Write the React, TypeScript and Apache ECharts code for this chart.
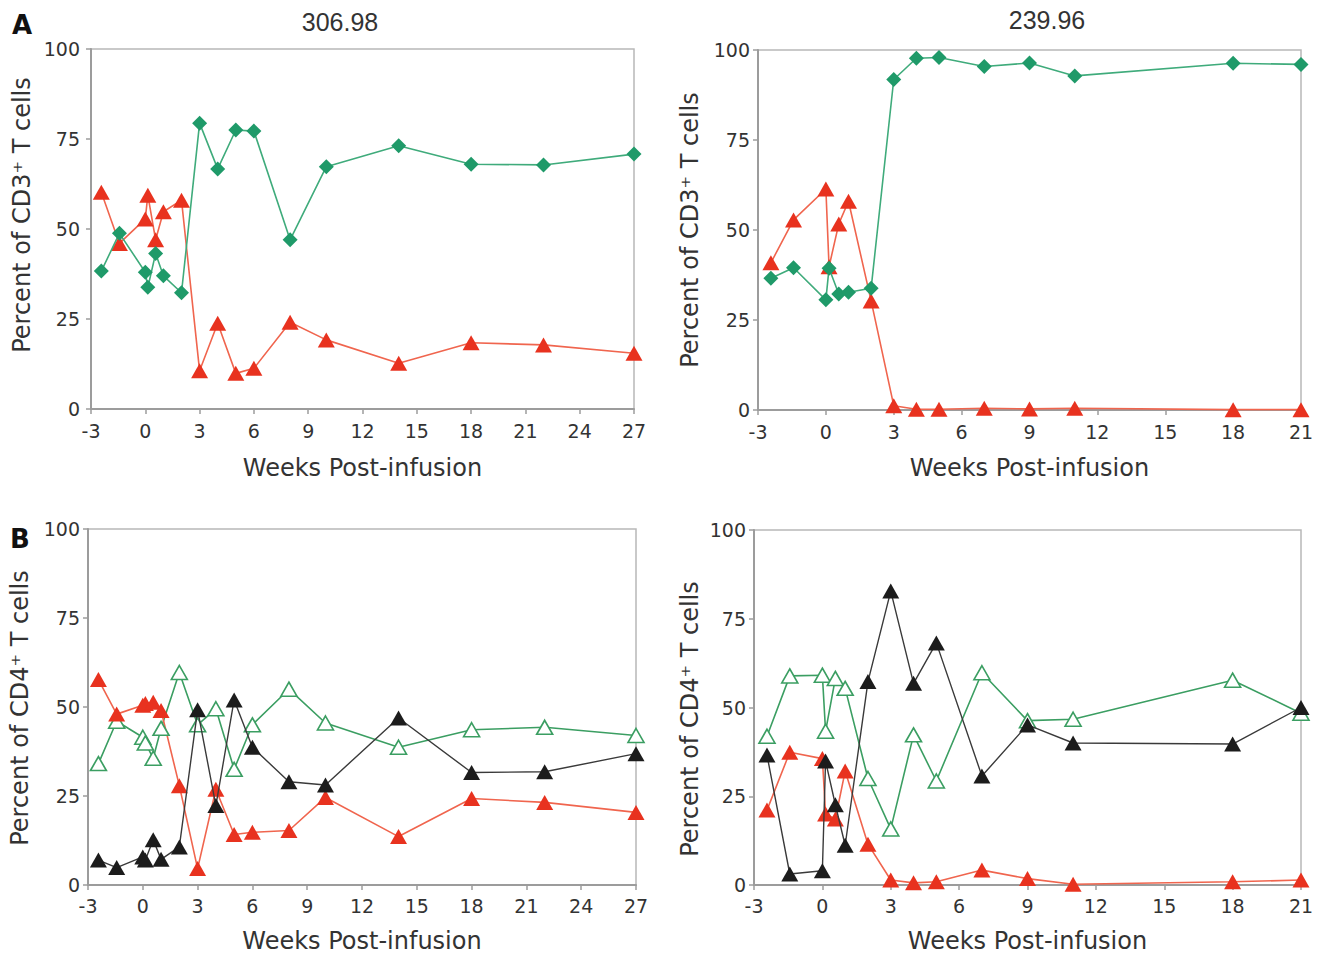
import React, { useEffect, useRef } from "react";
import * as echarts from "echarts";

// ---- Data ----
// Panel A (CD3+), patient 306.98
const weeksA1 = [-2.43, -1.43, 0, 0.14, 0.57, 1, 2, 3, 4, 5, 6, 8, 10, 14, 18, 22, 27];
const greenA1 = [38.3, 48.8, 38.0, 33.8, 43.2, 37.0, 32.3, 79.4, 66.7, 77.5, 77.2, 47.0, 67.3, 73.1, 68.0, 67.8, 70.8];
const redA1 = [60.2, 46.0, 52.8, 59.4, 47.0, 54.8, 58.0, 10.6, 23.8, 9.9, 11.3, 24.1, 19.2, 12.7, 18.4, 17.8, 15.5];

// Panel A (CD3+), patient 239.96
const weeksA2 = [-2.43, -1.43, 0, 0.14, 0.57, 1, 2, 3, 4, 5, 7, 9, 11, 18, 21];
const greenA2 = [36.6, 39.5, 30.6, 39.4, 32.2, 32.7, 33.8, 91.8, 97.7, 97.9, 95.4, 96.4, 92.8, 96.3, 96.0];
const redA2 = [40.9, 52.8, 61.4, 39.8, 51.7, 58.0, 30.3, 1.2, 0.2, 0.2, 0.5, 0.3, 0.5, 0.1, 0.1];

// Panel B (CD4+), patient 306.98
const weeksB1 = [-2.43, -1.43, 0, 0.14, 0.57, 1, 2, 3, 4, 5, 6, 8, 10, 14, 18, 22, 27];
const openB1 = [34.1, 46.0, 41.5, 39.9, 35.6, 44.0, 59.7, 45.0, 49.5, 32.5, 45.0, 55.0, 45.5, 38.7, 43.6, 44.3, 42.0];
const redB1 = [57.7, 48.0, 50.5, 51.0, 51.3, 49.0, 27.9, 4.6, 26.9, 14.2, 14.8, 15.3, 24.6, 13.6, 24.3, 23.2, 20.4];
const blackB1 = [7.0, 4.9, 7.9, 7.0, 12.7, 7.2, 10.7, 49.2, 22.3, 52.0, 38.7, 29.0, 28.1, 46.9, 31.6, 31.8, 36.9];

// Panel B (CD4+), patient 239.96
const weeksB2 = [-2.43, -1.43, 0, 0.14, 0.57, 1, 2, 3, 4, 5, 7, 9, 11, 18, 21];
const openB2 = [41.9, 58.9, 59.1, 43.3, 58.2, 55.4, 30.0, 15.8, 42.3, 29.3, 59.8, 46.3, 46.7, 57.7, 48.4];
const blackB2 = [36.6, 3.1, 4.0, 34.9, 22.6, 11.2, 57.3, 82.8, 56.8, 68.2, 30.7, 45.1, 40.0, 39.7, 50.0];
const redB2 = [21.1, 37.4, 35.6, 20.0, 18.6, 32.1, 11.5, 1.4, 0.6, 0.9, 4.2, 1.8, 0.2, 0.9, 1.4];

const xMax = [27, 21, 27, 21];
const titles = ["306.98", "239.96"];
const yNames = ["Percent of CD3\u207A T cells", "Percent of CD4\u207A T cells"];
const xName = "Weeks Post-infusion";

// ---- Styles ----
const GREEN_LINE = "#3fab7b";
const GREEN_FILL = "#1f9a69";
const RED_LINE = "#f0654e";
const RED_FILL = "#e8321f";
const BLACK = "#1c1c1c";
const BLACK_LINE = "#3a3a3a";
const OPEN_GREEN = "#3b9e62";
const TEXT = "#333333";
const AXIS = "#9c9c9c";
const FONT = "DejaVu Sans";

const pairs = (w: number[], v: number[]) => w.map((x, i) => [x, v[i]]);

export default function App() {
  const ref = useRef<HTMLDivElement>(null);

  useEffect(() => {
    document.body.style.margin = "0";
    if (!ref.current) return;
    const chart = echarts.init(ref.current, null, { renderer: "svg" });

    const grids = [
      { left: 91, top: 49, width: 543, height: 360 },
      { left: 758, top: 50, width: 543, height: 360 },
      { left: 88, top: 529, width: 548, height: 359 },
      { left: 754, top: 530, width: 547, height: 358 },
    ];
    const xLabelMargin = [12, 12, 11, 11];
    const xNameGap = [47, 46, 44, 44];
    const yLabelMargin = [11, 8, 8, 8];

    const diamond = (idx: number, data: number[][]) => ({
      type: "line",
      xAxisIndex: idx,
      yAxisIndex: idx,
      data,
      symbol: "diamond",
      symbolSize: 15,
      lineStyle: { color: GREEN_LINE, width: 1.6 },
      itemStyle: { color: GREEN_FILL },
      z: 3,
    });
    const redTri = (idx: number, data: number[][]) => ({
      type: "line",
      xAxisIndex: idx,
      yAxisIndex: idx,
      data,
      symbol: "triangle",
      symbolSize: [17, 15],
      lineStyle: { color: RED_LINE, width: 1.6 },
      itemStyle: { color: RED_FILL },
      z: 2,
    });
    const blackTri = (idx: number, data: number[][]) => ({
      type: "line",
      xAxisIndex: idx,
      yAxisIndex: idx,
      data,
      symbol: "triangle",
      symbolSize: [17, 15],
      lineStyle: { color: BLACK_LINE, width: 1.4 },
      itemStyle: { color: BLACK },
      z: 4,
    });
    const openTri = (idx: number, data: number[][]) => ({
      type: "line",
      xAxisIndex: idx,
      yAxisIndex: idx,
      data,
      symbol: "triangle",
      symbolSize: [16, 14],
      lineStyle: { color: OPEN_GREEN, width: 1.6 },
      itemStyle: { color: "#ffffff", borderColor: OPEN_GREEN, borderWidth: 1.6 },
      z: 2,
    });

    const option: any = {
      animation: false,
      backgroundColor: "#ffffff",
      grid: grids.map((g) => ({
        ...g,
        show: true,
        borderColor: "#b8b8b8",
        borderWidth: 1.5,
        backgroundColor: "transparent",
        containLabel: false,
      })),
      xAxis: grids.map((_, i) => ({
        type: "value",
        gridIndex: i,
        min: -3,
        max: xMax[i],
        interval: 3,
        axisLine: { show: true, onZero: false, lineStyle: { color: AXIS, width: 2 } },
        axisTick: { show: true, length: 5, lineStyle: { color: AXIS, width: 1.5 } },
        axisLabel: { margin: xLabelMargin[i], fontSize: 19, color: TEXT, fontFamily: FONT },
        splitLine: { show: false },
        name: xName,
        nameLocation: "middle",
        nameGap: xNameGap[i],
        nameTextStyle: { fontSize: 24, color: TEXT, fontFamily: FONT },
      })),
      yAxis: grids.map((_, i) => ({
        type: "value",
        gridIndex: i,
        min: 0,
        max: 100,
        interval: 25,
        axisLine: { show: true, onZero: false, lineStyle: { color: AXIS, width: 2 } },
        axisTick: { show: true, length: 5, lineStyle: { color: AXIS, width: 1.5 } },
        axisLabel: { margin: yLabelMargin[i], fontSize: 19, color: TEXT, fontFamily: FONT },
        splitLine: { show: false },
      })),
      series: [
        redTri(0, pairs(weeksA1, redA1)),
        diamond(0, pairs(weeksA1, greenA1)),
        redTri(1, pairs(weeksA2, redA2)),
        diamond(1, pairs(weeksA2, greenA2)),
        openTri(2, pairs(weeksB1, openB1)),
        redTri(2, pairs(weeksB1, redB1)),
        blackTri(2, pairs(weeksB1, blackB1)),
        openTri(3, pairs(weeksB2, openB2)),
        redTri(3, pairs(weeksB2, redB2)),
        blackTri(3, pairs(weeksB2, blackB2)),
      ],
      graphic: [
        {
          type: "text", x: 22, y: 25,
          style: { text: "A", font: `bold 26px "${FONT}"`, fill: "#111", align: "center", verticalAlign: "middle" },
        },
        {
          type: "text", x: 20, y: 539,
          style: { text: "B", font: `bold 26px "${FONT}"`, fill: "#111", align: "center", verticalAlign: "middle" },
        },
        {
          type: "text", x: 340, y: 22,
          style: { text: titles[0], font: `25px "Liberation Sans"`, fill: TEXT, align: "center", verticalAlign: "middle" },
        },
        {
          type: "text", x: 1047, y: 20,
          style: { text: titles[1], font: `25px "Liberation Sans"`, fill: TEXT, align: "center", verticalAlign: "middle" },
        },
        {
          type: "text", x: 22, y: 215, rotation: Math.PI / 2,
          style: { text: yNames[0], font: `24px "${FONT}"`, fill: TEXT, align: "center", verticalAlign: "middle" },
        },
        {
          type: "text", x: 690, y: 230, rotation: Math.PI / 2,
          style: { text: yNames[0], font: `24px "${FONT}"`, fill: TEXT, align: "center", verticalAlign: "middle" },
        },
        {
          type: "text", x: 20, y: 708, rotation: Math.PI / 2,
          style: { text: yNames[1], font: `24px "${FONT}"`, fill: TEXT, align: "center", verticalAlign: "middle" },
        },
        {
          type: "text", x: 690, y: 719, rotation: Math.PI / 2,
          style: { text: yNames[1], font: `24px "${FONT}"`, fill: TEXT, align: "center", verticalAlign: "middle" },
        },
      ],
    };

    chart.setOption(option);
    return () => chart.dispose();
  }, []);

  return <div ref={ref} style={{ width: 1328, height: 954 }} />;
}
